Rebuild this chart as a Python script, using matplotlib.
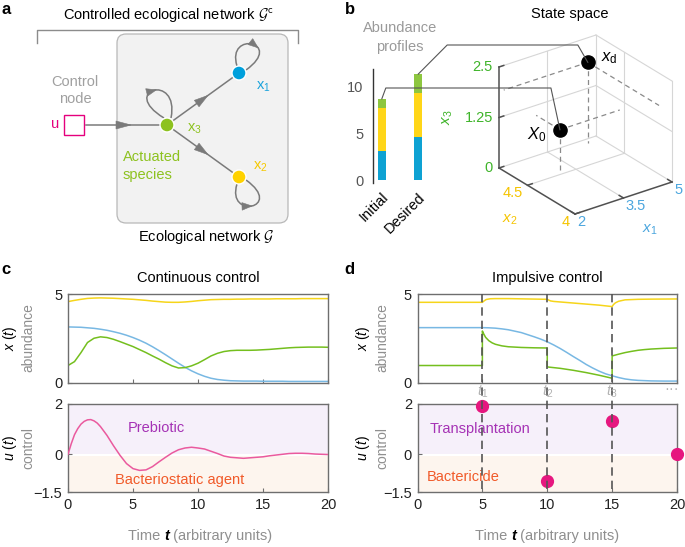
import numpy as np
import matplotlib
matplotlib.use("Agg")
import matplotlib.pyplot as plt
from matplotlib.patches import FancyBboxPatch, Rectangle, Circle, Polygon, PathPatch
from matplotlib.path import Path
from matplotlib.offsetbox import TextArea, HPacker, AnnotationBbox

plt.rcParams['font.family'] = ['Liberation Sans', 'DejaVu Sans']
plt.rcParams['mathtext.fontset'] = 'custom'
plt.rcParams['mathtext.rm'] = 'Liberation Sans'
plt.rcParams['mathtext.it'] = 'Liberation Sans:italic'
plt.rcParams['mathtext.bf'] = 'Liberation Sans:bold'
plt.rcParams['mathtext.cal'] = 'Liberation Sans'
plt.rcParams['mathtext.sf'] = 'Liberation Sans'

# ---------------- data ----------------
species = ['x1', 'x2', 'x3']
profile_labels = ['Initial', 'Desired']
initial_state = [3.15, 4.55, 1.0]     # x1, x2, x3
desired_state = [4.6, 4.75, 2.0]
bar_yticks = [0, 5, 10]

x1_ticks = [2, 3.5, 5]
x2_ticks = [4, 4.5]
x3_ticks = [0, 1.25, 2.5]
x1_range = (2, 5)
x2_range = (4, 4.8)
x3_range = (0, 2.5)

# panel c: continuous control
t_c = np.arange(0, 20.5, 0.5)
yellow_c = [4.57, 4.64, 4.70, 4.75, 4.77, 4.78, 4.77, 4.76, 4.74, 4.72, 4.70, 4.67, 4.64, 4.60,
            4.57, 4.54, 4.53, 4.53, 4.55, 4.58, 4.62, 4.65, 4.68, 4.69, 4.70, 4.70, 4.71, 4.71,
            4.72, 4.72, 4.72, 4.72, 4.73, 4.73, 4.73, 4.73, 4.74, 4.74, 4.74, 4.74, 4.74]
blue_c = [3.14, 3.13, 3.12, 3.09, 3.06, 3.01, 2.95, 2.87, 2.78, 2.67, 2.54, 2.39, 2.22, 2.02,
          1.80, 1.57, 1.33, 1.09, 0.86, 0.66, 0.49, 0.35, 0.24, 0.17, 0.13, 0.10, 0.09, 0.08,
          0.08, 0.08, 0.07, 0.07, 0.07, 0.07, 0.06, 0.06, 0.06, 0.06, 0.06, 0.06, 0.06]
green_c = [0.96, 1.18, 1.69, 2.26, 2.50, 2.58, 2.54, 2.44, 2.31, 2.17, 2.03, 1.86, 1.69, 1.50,
           1.32, 1.12, 0.94, 0.82, 0.84, 0.94, 1.09, 1.29, 1.50, 1.65, 1.75, 1.80, 1.82, 1.82,
           1.82, 1.83, 1.85, 1.87, 1.90, 1.93, 1.96, 1.98, 1.99, 2.00, 2.00, 2.00, 1.99]
t_u = [0, 0.25, 0.5, 0.75, 1, 1.25, 1.5, 1.75, 2, 2.25, 2.5, 3, 3.5, 4, 4.5, 5, 5.5, 6, 6.5, 7,
       7.5, 8, 8.5, 9, 9.5, 10, 10.5, 11, 11.5, 12, 12.5, 13, 13.5, 14, 14.5, 15, 15.5, 16,
       16.5, 17, 17.5, 18, 18.5, 19, 19.5, 20]
u_c = [0, 0.42, 0.78, 1.02, 1.20, 1.31, 1.37, 1.38, 1.33, 1.24, 1.10, 0.75, 0.34, -0.04, -0.37,
       -0.57, -0.64, -0.62, -0.49, -0.30, -0.12, 0.05, 0.18, 0.25, 0.28, 0.25, 0.21, 0.12, 0.03,
       -0.07, -0.12, -0.14, -0.16, -0.14, -0.12, -0.10, -0.06, -0.03, 0.0, 0.03, 0.04, 0.04,
       0.03, 0.01, 0.0, -0.01]

# panel d: impulsive control
t_yd = [0, 5, 5.15, 5.3, 5.6, 6, 7, 10, 10.1, 10.25, 10.5, 11, 12, 13, 14, 15, 15.1, 15.25,
        15.5, 16, 17, 18, 20]
yellow_d = [4.53, 4.53, 4.62, 4.69, 4.73, 4.74, 4.74, 4.70, 4.66, 4.61, 4.58, 4.55, 4.49, 4.43,
            4.37, 4.29, 4.40, 4.50, 4.59, 4.67, 4.70, 4.71, 4.72]
t_bd = [0, 1, 2, 3, 4, 5, 5.5, 6, 6.5, 7, 7.5, 8, 8.5, 9, 9.5, 10, 10.5, 11, 11.5, 12, 12.5,
        13, 13.5, 14, 14.5, 15, 15.5, 16, 16.5, 17, 18, 19, 20]
blue_d = [3.10, 3.10, 3.10, 3.10, 3.10, 3.10, 3.09, 3.07, 3.03, 2.98, 2.90, 2.82, 2.70, 2.58,
          2.45, 2.30, 2.12, 1.92, 1.70, 1.47, 1.25, 1.02, 0.82, 0.64, 0.49, 0.38, 0.28, 0.20,
          0.15, 0.12, 0.09, 0.08, 0.08]
t_gd = [0, 5, 5, 5.1, 5.25, 5.5, 5.75, 6, 6.5, 7, 8, 9, 10, 10, 11, 12, 13, 14, 15, 15, 15.5,
        16, 16.5, 17, 17.5, 18, 19, 20]
green_d = [0.96, 0.96, 2.91, 2.75, 2.55, 2.36, 2.24, 2.16, 2.07, 2.02, 1.98, 1.96, 1.95, 0.88,
           0.80, 0.69, 0.56, 0.41, 0.24, 1.50, 1.60, 1.69, 1.76, 1.82, 1.86, 1.89, 1.93, 1.95]
impulse_t = [5, 10, 15, 20]
impulse_u = [1.93, -1.08, 1.33, 0.0]
impulse_labels = ['$t_1$', '$t_2$', '$t_3$']

time_ticks = [0, 5, 10, 15, 20]

# ---------------- colours ----------------
C_BLUE, C_YEL, C_GRN = '#0ea2d3', '#ffd618', '#8dc63f'
L_BLUE, L_YEL, L_GRN = '#78b8e3', '#f6d51a', '#74bf1e'
T_BLUE, T_YEL, T_GRN = '#4ba6de', '#f5c400', '#3fb42a'
PINK, DOT = '#ea5a9e', '#e6177f'
GREY_T = '#8f8f8f'
SPINE = '#6e6e6e'

W, H = 685, 547
fig = plt.figure(figsize=(W / 100, H / 100), dpi=100)


def rect(l, t, r, b):
    return [l / W, 1 - b / H, (r - l) / W, (b - t) / H]


ov = fig.add_axes([0, 0, 1, 1], zorder=10)
ov.set_xlim(0, W)
ov.set_ylim(H, 0)
ov.axis('off')
ov.patch.set_alpha(0)


def to_ov(ax, x, y):
    d = ax.transData.transform((x, y))
    return ov.transData.inverted().transform(d)


def head(tip, d, L=12, hw=4, color='#7a7a7a'):
    d = np.asarray(d, float)
    d = d / np.hypot(*d)
    n = np.array([-d[1], d[0]])
    tip = np.asarray(tip, float)
    base = tip - L * d
    ov.add_patch(Polygon([tip, base + hw * n, base - hw * n], closed=True,
                         fc=color, ec=color, lw=0.4, zorder=4))


def bez(P, t):
    P = np.asarray(P, float)
    return ((1 - t) ** 3 * P[0] + 3 * (1 - t) ** 2 * t * P[1]
            + 3 * (1 - t) * t ** 2 * P[2] + t ** 3 * P[3])


def dbez(P, t):
    P = np.asarray(P, float)
    return (3 * (1 - t) ** 2 * (P[1] - P[0]) + 6 * (1 - t) * t * (P[2] - P[1])
            + 3 * t ** 2 * (P[3] - P[2]))


def loop(P, tpos, color='#7a7a7a'):
    path = Path(P, [Path.MOVETO, Path.CURVE4, Path.CURVE4, Path.CURVE4])
    ov.add_patch(PathPatch(path, fc='none', ec=color, lw=1.1, zorder=3))
    head(bez(P, tpos + 0.05), dbez(P, tpos), L=10, hw=3.8, color=color)


# ---------------- panel a ----------------
EDGE = '#7a7a7a'
ov.text(6, 9, 'a', fontsize=12, fontweight='bold', ha='center', va='center')
ov.text(168, 15, r'Controlled ecological network $\mathcal{G}^{\mathsf{c}}$', fontsize=10.5,
        ha='center', va='center', math_fontfamily='cm')
ov.plot([37, 37, 298, 298], [43, 30, 30, 43], color='#8c8c8c', lw=1.0)
ov.add_patch(FancyBboxPatch((117, 34), 171, 189, boxstyle='round,pad=0,rounding_size=9',
                            fc='#f2f2f2', ec='#b8b8b8', lw=0.9, zorder=1))
ov.text(206, 237, r'Ecological network $\mathcal{G}$', fontsize=10.5, ha='center',
        va='center', math_fontfamily='cm')

n3, n1, n2 = np.array([167, 125]), np.array([239, 73]), np.array([239, 177])
ov.plot([86, 160], [125, 125], color=EDGE, lw=1.1, zorder=3)
head((131, 125), (1, 0), L=15, hw=4)
for tgt in (n1, n2):
    d = tgt - n3
    u = d / np.hypot(*d)
    a0, a1 = n3 + 8 * u, tgt - 8 * u
    ov.plot([a0[0], a1[0]], [a0[1], a1[1]], color=EDGE, lw=1.1, zorder=3)
    head(n3 + 0.57 * d, d, L=14, hw=4)
loop([[164, 118], [118, 90], [180, 72], [171, 118]], 0.5)
loop([[237, 66], [226, 30], [285, 42], [246, 70]], 0.6)
loop([[237, 184], [226, 220], [285, 208], [246, 180]], 0.45)
for c, col in ((n3, '#8dc21f'), (n1, '#00a0dc'), (n2, '#ffd200')):
    ov.add_patch(Circle(c, 7, fc=col, ec='white', lw=1.0, zorder=5))
ov.text(263, 87, r'$\mathregular{x_1}$', color='#1aa3dc', fontsize=10.5, ha='center', va='center')
ov.text(194, 129, r'$\mathregular{x_3}$', color='#8dc21f', fontsize=10.5, ha='center', va='center')
ov.text(260, 167, r'$\mathregular{x_2}$', color='#f5c800', fontsize=10.5, ha='center', va='center')
ov.text(123, 157, 'Actuated', color='#8dc21f', fontsize=10.5, ha='left', va='center')
ov.text(123, 175, 'species', color='#8dc21f', fontsize=10.5, ha='left', va='center')
ov.text(75, 82, 'Control', color='#a0a0a0', fontsize=10.5, ha='center', va='center')
ov.text(75, 99, 'node', color='#a0a0a0', fontsize=10.5, ha='center', va='center')
ov.text(55, 124, 'u', color='#e5007d', fontsize=10.5, ha='center', va='center')
ov.add_patch(Rectangle((64, 115), 20, 20, fc='white', ec='#e5007d', lw=1.0, zorder=3))

# ---------------- panel b: bars ----------------
ov.text(350, 10, 'b', fontsize=12, fontweight='bold', ha='center', va='center')
ov.text(400, 28, 'Abundance', color='#9a9a9a', fontsize=10.5, ha='center', va='center')
ov.text(400, 47, 'profiles', color='#9a9a9a', fontsize=10.5, ha='center', va='center')
ov.text(570, 14, 'State space', fontsize=10.5, ha='center', va='center')

axb = fig.add_axes(rect(373, 69, 446, 183))
axb.set_xlim(-0.242, 1.764)
axb.set_ylim(-0.32, 11.9)
axb.patch.set_alpha(0)
for s in ('top', 'right', 'bottom'):
    axb.spines[s].set_visible(False)
axb.spines['left'].set_color('#333333')
axb.spines['left'].set_linewidth(1.0)
profiles = [initial_state, desired_state]
xs = np.arange(len(profile_labels))
bottoms = np.zeros(len(profile_labels))
for k, col in enumerate((C_BLUE, C_YEL, C_GRN)):
    vals = np.array([p[k] for p in profiles])
    axb.bar(xs, vals, bottom=bottoms, width=0.228, color=col, lw=0)
    bottoms = bottoms + vals
axb.set_yticks(bar_yticks)
axb.tick_params(axis='y', length=0, pad=7, labelsize=10.5, labelcolor='#555555')
axb.set_xticks(xs)
axb.set_xticklabels(profile_labels, rotation=45, ha='right', rotation_mode='anchor',
                    fontsize=10.5)
axb.tick_params(axis='x', length=0, pad=5)

# ---------------- panel b: 3D state space (oblique projection) ----------------
O3 = np.array([575.0, 214.0])
E1 = np.array([97.0, -32.0]) / (x1_range[1] - x1_range[0])
E2 = np.array([-76.0, -46.0]) / (x2_range[1] - x2_range[0])
E3 = np.array([0.0, -101.0]) / (x3_range[1] - x3_range[0])


def P3(a, b, c):
    return O3 + (a - x1_range[0]) * E1 + (b - x2_range[0]) * E2 + (c - x3_range[0]) * E3


def seg(p, q, **kw):
    ov.plot([p[0], q[0]], [p[1], q[1]], **kw)


GRID = dict(color='#d6d6d6', lw=0.8, zorder=2)
a0, a1 = x1_range
b0, b1 = x2_range
c0, c1 = x3_range
for z in x3_ticks:
    seg(P3(a0, b1, z), P3(a1, b1, z), **GRID)
    seg(P3(a1, b1, z), P3(a1, b0, z), **GRID)
for xv in x1_ticks[1:]:
    seg(P3(xv, b1, c0), P3(xv, b1, c1), **GRID)
for yv in x2_ticks:
    seg(P3(a1, yv, c0), P3(a1, yv, c1), **GRID)
for xv in x1_ticks[1:-1]:
    seg(P3(xv, b0, c0), P3(xv, b1, c0), **GRID)
for yv in x2_ticks[1:]:
    seg(P3(a0, yv, c0), P3(a1, yv, c0), **GRID)

DASH = dict(color='#8a8a8a', lw=0.9, ls=(0, (4, 3)), zorder=3)
X0 = initial_state
XD = desired_state
p0, pd = P3(*X0), P3(*XD)
seg(p0, P3(X0[0], X0[1], c0), **DASH)
seg(p0, P3(a1, X0[1], X0[2]), **DASH)
seg(p0, P3(X0[0], b1, X0[2]), **DASH)
seg(pd, P3(XD[0], XD[1], c0), **DASH)
seg(pd, P3(a0, XD[1], XD[2]), **DASH)
seg(pd, P3(XD[0], b0, XD[2]), **DASH)

AX = dict(color='#505050', lw=1.1, zorder=4)
seg(P3(a0, b1, c0), P3(a0, b1, c1), **AX)
seg(P3(a0, b0, c0), P3(a0, b1, c0), **AX)
seg(P3(a0, b0, c0), P3(a1, b0, c0), **AX)
e1u = E1 / np.hypot(*E1)
e2u = E2 / np.hypot(*E2)
for z in x3_ticks:
    p = P3(a0, b1, z)
    seg(p, p + 5 * e1u, **AX)
    ov.text(p[0] - 6, p[1], f'{z:g}', color=T_GRN, fontsize=10.5, ha='right', va='center')
for yv in x2_ticks:
    p = P3(a0, yv, c0)
    seg(p, p + 5 * e1u, **AX)
    ov.text(p[0] - 5, p[1] + 8, f'{yv:g}', color=T_YEL, fontsize=10.5, ha='right', va='center')
for xv in x1_ticks:
    p = P3(xv, b0, c0)
    seg(p, p + 5 * e2u, **AX)
    ov.text(p[0] + 2, p[1] + 8, f'{xv:g}', color=T_BLUE, fontsize=10.5, ha='left', va='center')
ov.text(448, 117, '$x_3$', color=T_GRN, fontsize=11, rotation=90, ha='center', va='center')
ov.text(510, 220, '$x_2$', color=T_YEL, fontsize=11, ha='center', va='center')
ov.text(650, 230, '$x_1$', color=T_BLUE, fontsize=11, ha='center', va='center')

ov.plot([p0[0], pd[0]], [p0[1], pd[1]], 'o', ls='none', color='black', ms=9.5, zorder=6)
ov.text(537, 135, '$X_0$', fontsize=12, ha='center', va='center')
ov.text(609, 58, r'$x_{\mathregular{d}}$', fontsize=12, ha='center', va='center')

CON = dict(color='#555555', lw=0.8, zorder=7)
tops = np.cumsum(profiles, axis=1)[:, -1]
s0 = to_ov(axb, xs[0], tops[0])
s1 = to_ov(axb, xs[1], tops[1])
ov.plot([s0[0], s0[0] + 4, p0[0] - 9, p0[0]], [s0[1], 88, 88, p0[1]], **CON)
ov.plot([s1[0], s1[0] + 29, pd[0] - 10, pd[0]], [s1[1], 45, 45, pd[1]], **CON)


# ---------------- panels c, d ----------------
def style(ax, top):
    ax.set_xlim(0, 20)
    for s in ax.spines.values():
        s.set_color(SPINE)
        s.set_linewidth(1.0)
    ax.tick_params(direction='in', length=3, color=SPINE, labelsize=10.5,
                   labelcolor='#222222', pad=4)
    ax.set_xticks(time_ticks)
    if top:
        ax.set_ylim(0, 5)
        ax.set_yticks([0, 5])
        ax.tick_params(axis='x', labelbottom=False)
    else:
        ax.set_ylim(-1.5, 2)
        ax.set_yticks([-1.5, 0, 2])
        ax.set_yticklabels(['\u22121.5', '0', '2'])
        ax.axhspan(0.02, 2, color='#f6f0fa', lw=0, zorder=0)
        ax.axhspan(-1.5, -0.05, color='#fdf5ee', lw=0, zorder=0)


def xlabel_mixed(cx, cy):
    parts = [TextArea('Time ', textprops=dict(color=GREY_T, fontsize=10.5)),
             TextArea('t', textprops=dict(color='black', fontsize=10.5, fontweight='bold',
                                          fontstyle='italic')),
             TextArea(' (arbitrary units)', textprops=dict(color=GREY_T, fontsize=10.5))]
    box = HPacker(children=parts, align='baseline', pad=0, sep=0)
    ov.add_artist(AnnotationBbox(box, (cx, cy), xycoords=ov.transData, frameon=False,
                                 box_alignment=(0.5, 0.5), pad=0))


def ylabels(xa, xb, yc, main, sub):
    ov.text(xa, yc, main, fontsize=10, rotation=90, ha='center', va='center', color='black')
    ov.text(xb, yc, sub, fontsize=10, rotation=90, ha='center', va='center', color=GREY_T)


# c
axc1 = fig.add_axes(rect(68, 294, 328, 382.5))
axc2 = fig.add_axes(rect(68, 404, 328, 492))
style(axc1, True)
style(axc2, False)
axc1.plot(t_c, yellow_c, color=L_YEL, lw=1.1)
axc1.plot(t_c, blue_c, color=L_BLUE, lw=1.1)
axc1.plot(t_c, green_c, color=L_GRN, lw=1.1)
axc2.plot(t_u, u_c, color=PINK, lw=1.1, zorder=3)
axc2.text(6.8, 1.05, 'Prebiotic', color='#a532b5', fontsize=10.5, ha='center', va='center')
axc2.text(8.6, -1.02, 'Bacteriostatic agent', color='#f15a29', fontsize=10.5, ha='center',
          va='center')
ov.text(6, 270, 'c', fontsize=12, fontweight='bold', ha='center', va='center')
ov.text(198, 278, 'Continuous control', fontsize=10.5, ha='center', va='center')
xlabel_mixed(200, 536)
ylabels(10, 28, 338, r'$x\ (t)$', 'abundance')
ylabels(10, 28, 448, r'$u\ (t)$', 'control')

# d
axd1 = fig.add_axes(rect(417.5, 294, 677, 382.5))
axd2 = fig.add_axes(rect(417.5, 404, 677, 492))
style(axd1, True)
style(axd2, False)
axd1.plot(t_yd, yellow_d, color=L_YEL, lw=1.1)
axd1.plot(t_bd, blue_d, color=L_BLUE, lw=1.1)
axd1.plot(t_gd, green_d, color=L_GRN, lw=1.1)
axd2.plot(impulse_t, impulse_u, 'o', ls='none', color=DOT, ms=8.5, clip_on=False, zorder=5)
axd2.text(4.78, 1.0, 'Transplantation', color='#a532b5', fontsize=10.5, ha='center',
          va='center')
axd2.text(3.54, -0.9, 'Bactericide', color='#f15a29', fontsize=10.5, ha='center', va='center')
ov.text(349, 270, 'd', fontsize=12, fontweight='bold', ha='center', va='center')
ov.text(547, 278, 'Impulsive control', fontsize=10.5, ha='center', va='center')
xlabel_mixed(547, 536)
ylabels(363, 382, 338, r'$x\ (t)$', 'abundance')
ylabels(363, 382, 448, r'$u\ (t)$', 'control')

for tk, lab in zip(impulse_t[:3], impulse_labels):
    xp = to_ov(axd1, tk, 0)[0]
    ov.plot([xp, xp], [294, 492], color='#555555', lw=1.2, ls=(0, (5, 3)), zorder=1)
    ov.text(xp, 392, lab, color='#b3b3b3', fontsize=10.5, ha='center', va='center')
ov.text(672, 389, '\u00b7\u00b7\u00b7', color='#b3b3b3', fontsize=10.5, ha='center', va='center')

fig.savefig('out.png', dpi=100)
